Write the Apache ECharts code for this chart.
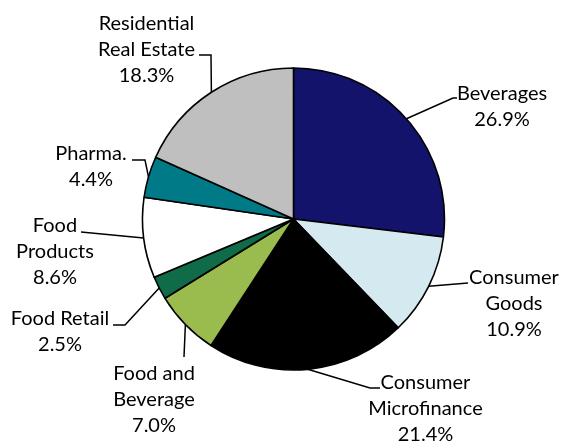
<!DOCTYPE html>
<html><head><meta charset="utf-8">
<script src="https://cdn.jsdelivr.net/npm/echarts@6/dist/echarts.min.js"></script>
<style>html,body{margin:0;padding:0;background:#fff}#c{width:563px;height:441px}</style>
</head><body><div id="c"></div>
<script>
const categories = ['Beverages','Consumer\nGoods','Consumer\nMicrofinance','Food and\nBeverage','Food Retail','Food\nProducts','Pharma.','Residential\nReal Estate'];
const shares = [26.9, 10.9, 21.4, 7.0, 2.5, 8.6, 4.4, 18.3];
const sliceColors = ['#13136B','#D4E9F0','#000000','#9ABB4D','#0F6B48','#FFFFFF','#007A87','#BFBFBF'];

// label block centre and leader-line elbow/end offsets relative to that centre
const labelPlacement = [
  {cx: 502,   cy: 107,   elbow: [-49, -9],    end: [-45, -9]},
  {cx: 514,   cy: 304,   elbow: [-46, -21],   end: [-46, -21]},
  {cx: 425.5, cy: 409,   elbow: [-55.5, -21], end: [-45.5, -21]},
  {cx: 154,   cy: 400,   elbow: [30, -43],    end: [30, -43]},
  {cx: 60,    cy: 331.5, elbow: [65, -6.5],   end: [53, -6.5]},
  {cx: 55,    cy: 251.5, elbow: [26, -19.5],  end: [26, -19.5]},
  {cx: 91,    cy: 166.5, elbow: [54, -6.5],   end: [41, -6.5]},
  {cx: 146.5, cy: 50,    elbow: [64.5, 5],    end: [52.5, 5]}
];

const chart = echarts.init(document.getElementById('c'), null, {renderer: 'canvas'});
chart.setOption({
  animation: false,
  backgroundColor: '#fff',
  series: [{
    type: 'pie',
    center: [293.5, 219],
    radius: [0, 151],
    startAngle: 90,
    clockwise: true,
    avoidLabelOverlap: false,
    minShowLabelAngle: 0,
    data: categories.map((n, i) => ({name: n, value: shares[i], itemStyle: {color: sliceColors[i]}})),
    itemStyle: {borderColor: '#000', borderWidth: 1.6},
    emphasis: {disabled: true},
    label: {
      show: true,
      position: 'outside',
      formatter: p => p.name + '\n' + p.value.toFixed(1) + '%',
      fontFamily: 'Lato',
      fontSize: 20,
      lineHeight: 26,
      color: '#000',
      align: 'center'
    },
    labelLine: {show: true, length: 10, length2: 10, lineStyle: {color: '#000', width: 1.5}},
    labelLayout: function (params) {
      const p = labelPlacement[params.dataIndex];
      const start = params.labelLinePoints ? params.labelLinePoints[0] : [p.cx, p.cy];
      return {
        x: p.cx, y: p.cy, align: 'center', verticalAlign: 'middle',
        labelLinePoints: [start, [p.cx + p.elbow[0], p.cy + p.elbow[1]], [p.cx + p.end[0], p.cy + p.end[1]]]
      };
    }
  }]
});
</script></body></html>
